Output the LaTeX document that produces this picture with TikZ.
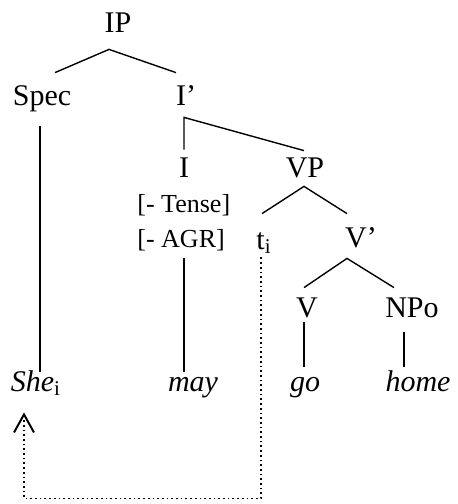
\documentclass[tikz,border=0pt]{standalone}
\usepackage{fontspec}
\setmainfont{Liberation Serif}
\usetikzlibrary{arrows.meta,calc}

\begin{document}
\begin{tikzpicture}[x=0.5pt, y=-0.5pt,
    cat/.style={inner sep=0pt, anchor=base, font=\fontsize{15}{18}\selectfont, text height=10pt, text depth=3pt},
    lex/.style={cat, font=\fontsize{15}{18}\selectfont\itshape},
    feat/.style={inner sep=0pt, anchor=base west, font=\fontsize{13}{15}\selectfont, text height=8pt, text depth=2.5pt},
    branch/.style={line width=0.7pt},
    trace/.style={line width=0.85pt, dash pattern=on 0.85pt off 1.5pt, -{Straight Barb[length=9pt,width=10pt,line width=1pt]}}]
    \useasboundingbox (0,0) rectangle (457,504);

    % Categories
    \node[cat] (IP) at (118,32) {IP};
    \node[cat] (Spec) at (42,105) {Spec};
    \node[cat] (Ibar) at (186,105) {I’};
    \node[cat] (I) at (184,177) {I};
    \node[cat] (VP) at (305,177) {VP};
    \node[feat] (tense) at (137,212) {[- Tense]};
    \node[feat] (agr) at (137,247) {[- AGR]};
    \node[cat] (t) at (264,249) {t\textsubscript{i}};
    \node[cat] (Vbar) at (361,247) {V’};
    \node[cat] (V) at (307,317) {V};
    \node[cat] (NPo) at (412,317) {NPo};

    % Words
    \node[lex] (She) at (36,391) {She\textsubscript{\upshape i}};
    \node[lex] (may) at (193,391) {may};
    \node[lex] (go) at (305,391) {go};
    \node[lex] (home) at (418,391) {home};

    % Branching points
    \coordinate (IP-fork) at ($(IP.south)+(-9,11)$);
    \coordinate (Ibar-fork) at ($(Ibar.south)+(-2,6)$);
    \coordinate (VP-fork) at ($(VP.south)+(-1,3)$);
    \coordinate (Vbar-fork) at ($(Vbar.south)+(-14,5)$);

    % Branches
    \draw[branch] ($(Spec.north)+(13,-12)$) -- (IP-fork) -- ($(Ibar.north)+(-10,-12)$);
    \draw[branch] ($(Spec.south)+(-2,15)$) -- ($(She.north)+(4,1)$);
    \draw[branch] ($(I.north)+(0,-7)$) -- (Ibar-fork) -- ($(VP.north)+(-1,-6)$);
    \draw[branch] ($(t.north)+(-2,-15)$) -- (VP-fork) -- ($(Vbar.north)+(-14,-13)$);
    \draw[branch] ($(I |- agr.south)+(0,6)$) -- ($(I |- may.north)+(0,1)$);
    \draw[branch] ($(V.north)+(-3,-9)$) -- (Vbar-fork) -- ($(NPo.north)+(-18,-9)$);
    \draw[branch] ($(V.south)+(-3,-1)$) -- ($(go.north)+(-1,-4)$);
    \draw[branch] ($(NPo.south)+(-8,9)$) -- ($(home.north)+(-14,-4)$);

    % Movement of the subject
    \coordinate (t-foot) at ($(t.south)+(-3,2)$);
    \coordinate (She-foot) at ($(She.south)+(-12,15)$);
    \draw[trace] (t-foot) -- ++(0,241) -| (She-foot);
\end{tikzpicture}
\end{document}
